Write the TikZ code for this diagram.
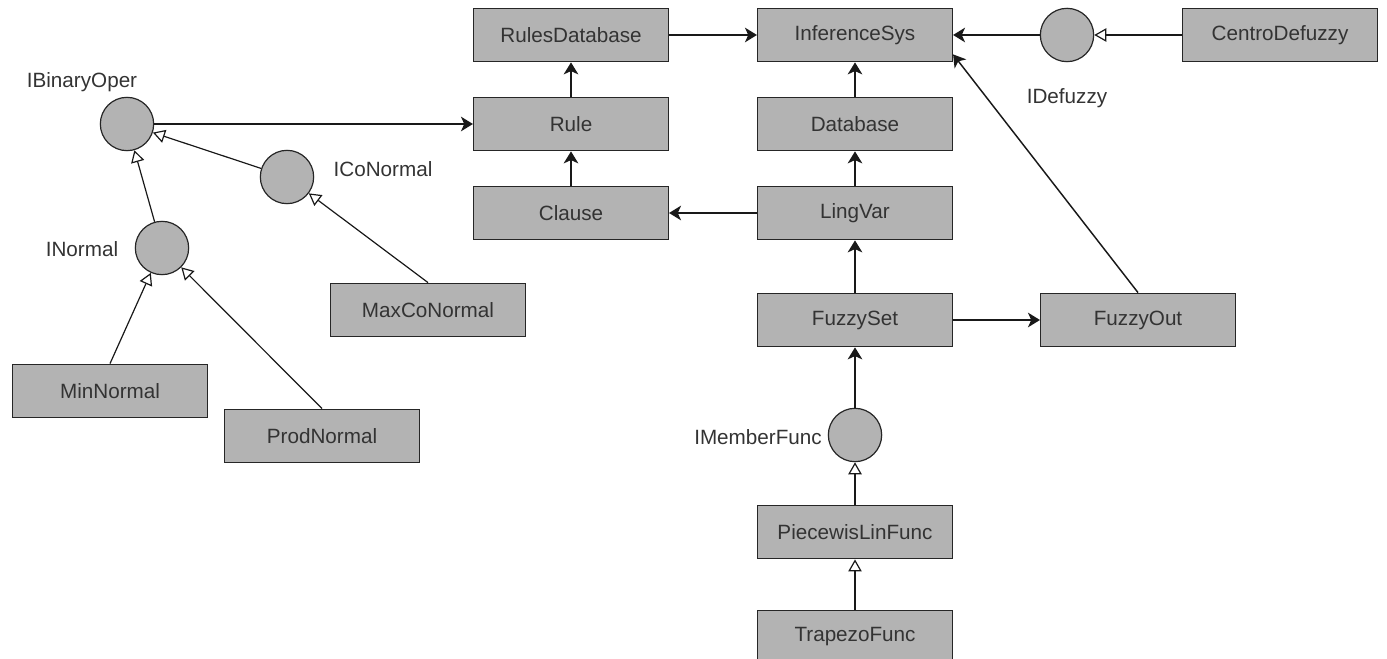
\documentclass[tikz,border=0pt]{standalone}
\usepackage{fontspec}
\setmainfont{Liberation Sans}
\usetikzlibrary{arrows.meta,calc}
\definecolor{boxgray}{HTML}{B3B3B3}
\definecolor{txtgray}{HTML}{333333}

\begin{document}
\begin{tikzpicture}[x=0.75pt,y=-0.75pt,
    box/.style={draw=black!85,fill=boxgray,line width=1.1pt,minimum width=146pt,minimum height=40pt,inner sep=0pt,text=txtgray,font=\fontsize{15.5}{18}\selectfont},
    iface/.style={circle,draw=black!85,fill=boxgray,line width=0.9pt,minimum size=40pt,inner sep=0pt},
    lbl/.style={text=txtgray,inner sep=0pt,font=\fontsize{15.5}{18}\selectfont},
    assoc/.style={draw=black!90,line width=1.1pt,-{Stealth[length=9pt,width=11pt,inset=2.5pt]}},
    impl/.style={draw=black!90,line width=0.9pt,-{Triangle[open,length=9pt,width=10pt,fill=white]}}]
    \useasboundingbox (0,0) rectangle (1387,659);
    % classes
    \node[box] (rdb) at (571,35) {RulesDatabase};
    \node[box] (inf) at (855,35) {InferenceSys};
    \node[box] (cdf) at (1280,35) {CentroDefuzzy};
    \node[box] (rule) at (571,124) {Rule};
    \node[box] (dbase) at (855,124) {Database};
    \node[box] (clause) at (571,213) {Clause};
    \node[box] (lvar) at (855,213) {LingVar};
    \node[box] (fset) at (855,320) {FuzzySet};
    \node[box] (fout) at (1138,320) {FuzzyOut};
    \node[box] (pwl) at (855,532) {PiecewisLinFunc};
    \node[box] (trap) at (855,637) {TrapezoFunc};
    \node[box] (maxcn) at (428,310) {MaxCoNormal};
    \node[box] (minn) at (110,391) {MinNormal};
    \node[box] (prodn) at (322,436) {ProdNormal};
    % interfaces
    \node[iface] (ibin) at (127,124) {};
    \node[iface] (icon) at (287,177) {};
    \node[iface] (inor) at (162,248) {};
    \node[iface] (idef) at (1067,35) {};
    \node[iface] (imem) at (855,435) {};
    \node[lbl] (ibinl) at (82,82) {IBinaryOper};
    \node[lbl] (iconl) at (383,169) {ICoNormal};
    \node[lbl] (inorl) at (82,249) {INormal};
    \node[lbl] (idefl) at (1067,98) {IDefuzzy};
    \node[lbl,anchor=east] (imeml) at (822,437) {IMemberFunc};
    % associations
    \draw[assoc] (rdb) -- (inf);
    \draw[assoc] (rule) -- (rdb);
    \draw[assoc] (clause) -- (rule);
    \draw[assoc] (dbase) -- (inf);
    \draw[assoc] (lvar) -- (dbase);
    \draw[assoc] (lvar) -- (clause);
    \draw[assoc] (fset) -- (lvar);
    \draw[assoc] (fset) -- (fout);
    \draw[assoc] (fout.north) -- ($(inf.south east)+(0,-8)$);
    \draw[assoc] (idef) -- (inf);
    \draw[assoc] (imem) -- (fset);
    \draw[assoc] (ibin) -- (rule);
    % realizations
    \draw[impl] (cdf) -- (idef);
    \draw[impl] (pwl) -- (imem);
    \draw[impl] (trap) -- (pwl);
    \draw[impl] (icon) -- (ibin);
    \draw[impl] (inor) -- (ibin);
    \draw[impl] (maxcn.north) -- (icon);
    \draw[impl] (minn.north) -- (inor);
    \draw[impl] (prodn.north) -- (inor);
\end{tikzpicture}
\end{document}
